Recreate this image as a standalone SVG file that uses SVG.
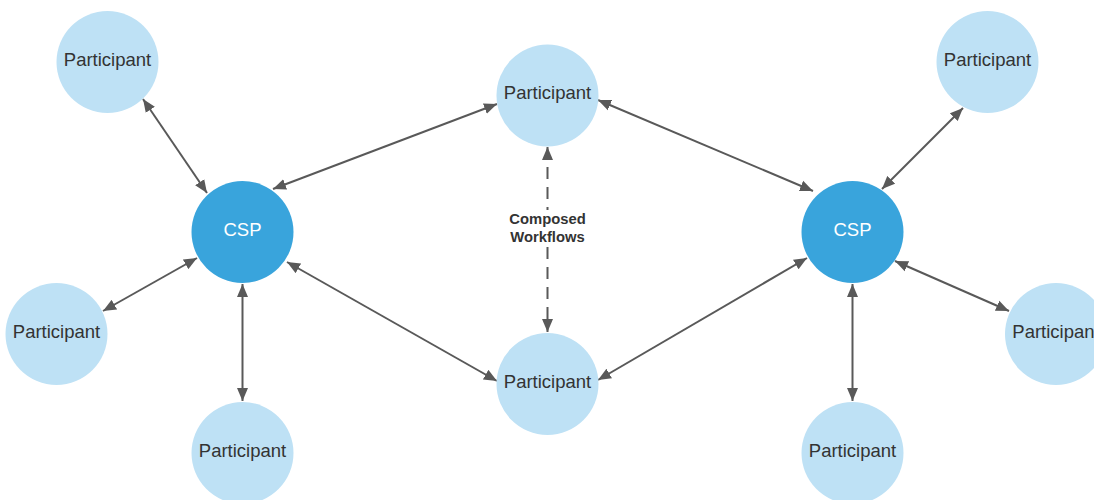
<svg xmlns="http://www.w3.org/2000/svg" width="1094" height="500" viewBox="0 0 1094 500">
<style>
.p{fill:#BEE1F5}
.c{fill:#39A4DC}
.pt{font-family:"Liberation Sans",Arial,sans-serif;font-size:18.5px;fill:#333333;text-anchor:middle}
.ct{font-family:"Liberation Sans",Arial,sans-serif;font-size:18.5px;fill:#ffffff;text-anchor:middle}
.lt{font-family:"Liberation Sans",Arial,sans-serif;font-size:14.8px;font-weight:bold;fill:#333333;text-anchor:middle}
.e{stroke:#595959;stroke-width:2;fill:none;marker-start:url(#ah);marker-end:url(#ah)}
.d{stroke-dasharray:12 8}
</style>
<defs>
<marker id="ah" markerUnits="userSpaceOnUse" markerWidth="14" markerHeight="12" refX="13" refY="6" orient="auto-start-reverse" viewBox="0 0 14 12">
<path d="M0,0.5 L13,6 L0,11.5 z" fill="#595959"/>
</marker>
</defs>
<rect width="1094" height="500" fill="#ffffff"/>
<g id="connectors">
<line class="e" x1="143" y1="99" x2="207" y2="193"/>
<line class="e" x1="497" y1="104" x2="273" y2="189"/>
<line class="e" x1="103" y1="311" x2="197" y2="258"/>
<line class="e" x1="242.5" y1="284" x2="242.5" y2="401"/>
<line class="e" x1="287" y1="262" x2="497" y2="381"/>
<line class="e" x1="598" y1="100" x2="813" y2="191"/>
<line class="e" x1="598" y1="380" x2="807" y2="258"/>
<line class="e" x1="963" y1="108" x2="882" y2="189"/>
<line class="e" x1="895" y1="261" x2="1009" y2="311"/>
<line class="e" x1="852.5" y1="284" x2="852.5" y2="401"/>
<line class="e d" x1="547.5" y1="147" x2="547.5" y2="332"/>
<g id="label-composed">
<rect x="506" y="210" width="83" height="36" fill="#ffffff"/>
<text class="lt" x="547.5" y="224">Composed</text>
<text class="lt" x="547.5" y="242">Workflows</text>
</g>
</g>
<g id="p-topleft"><circle class="p" cx="107.5" cy="62" r="51"/><text class="pt" x="107.5" y="65.5">Participant</text></g>
<g id="csp-left"><circle class="c" cx="242.5" cy="232" r="51"/><text class="ct" x="242.5" y="235.5">CSP</text></g>
<g id="p-left"><circle class="p" cx="56.5" cy="334" r="51"/><text class="pt" x="56.5" y="337.5">Participant</text></g>
<g id="p-bottomleft"><circle class="p" cx="242.5" cy="453" r="51"/><text class="pt" x="242.5" y="456.5">Participant</text></g>
<g id="p-topmid"><circle class="p" cx="547.5" cy="95.5" r="51"/><text class="pt" x="547.5" y="99">Participant</text></g>
<g id="p-bottommid"><circle class="p" cx="547.5" cy="384" r="51"/><text class="pt" x="547.5" y="387.5">Participant</text></g>
<g id="csp-right"><circle class="c" cx="852.5" cy="232" r="51"/><text class="ct" x="852.5" y="235.5">CSP</text></g>
<g id="p-topright"><circle class="p" cx="987.5" cy="62" r="51"/><text class="pt" x="987.5" y="65.5">Participant</text></g>
<g id="p-right"><circle class="p" cx="1056" cy="334" r="51"/><text class="pt" x="1056" y="337.5">Participant</text></g>
<g id="p-bottomright"><circle class="p" cx="852.5" cy="453" r="51"/><text class="pt" x="852.5" y="456.5">Participant</text></g>
</svg>
